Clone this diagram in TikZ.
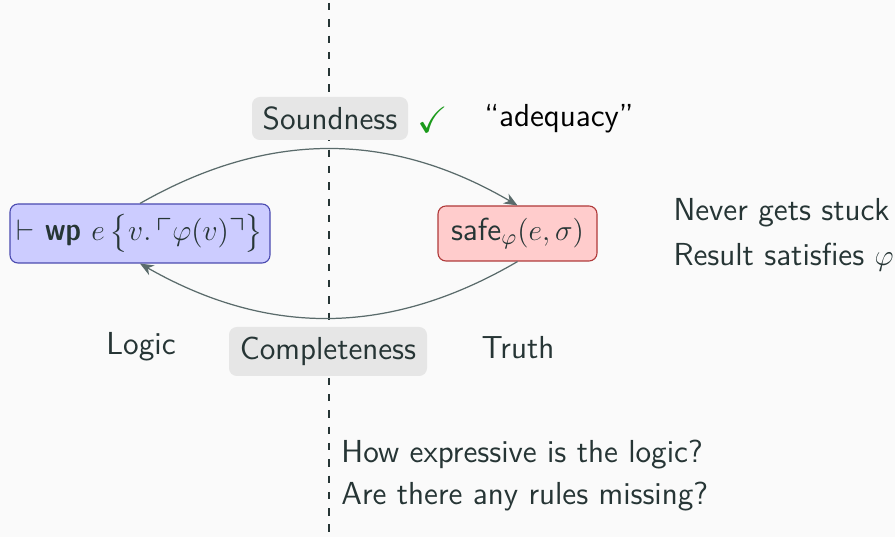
\documentclass[tikz,border=0pt]{standalone}
\usepackage{amsmath,amssymb}
\usetikzlibrary{arrows.meta}
\definecolor{bgc}{HTML}{FAFAFA}
\definecolor{txt}{HTML}{263535}
\definecolor{arc}{HTML}{5A6B6B}
\definecolor{bluefill}{HTML}{CCCCFF}
\definecolor{blueline}{HTML}{4A4AB0}
\definecolor{redfill}{HTML}{FFCCCC}
\definecolor{redline}{HTML}{B03A3A}
\definecolor{grayfill}{HTML}{E6E6E6}
\definecolor{checkg}{HTML}{1A9A1A}
\newcommand\pxu{0.405pt}
\tikzset{
  every node/.style={font=\sffamily\fontsize{12.9}{15.5}\selectfont, text=txt},
  judg/.style={draw, rounded corners=3.2pt, line width=0.45pt, inner sep=0pt},
  tag/.style={fill=grayfill, rounded corners=3.2pt, inner sep=0pt},
  conn/.style={draw=arc, line width=0.5pt, -{Stealth[length=5.5pt,width=4.5pt]}},
  lbl/.style={anchor=base west, inner sep=0pt},
}
\begin{document}
\begin{tikzpicture}[x=\pxu, y=-\pxu]
\fill[bgc] (0,0) rectangle (895,537);
\useasboundingbox (0,0) rectangle (895,537);
\coordinate (dtop) at (329,0);
\coordinate (dbot) at (329,537);
\draw[txt, line width=0.55pt, dash pattern=on 3pt off 3.6pt, dash phase=-1.2pt] (dtop) -- (dbot);

\node[judg, fill=bluefill, draw=blueline, minimum width=260*\pxu, minimum height=59*\pxu] (L) at (140,233.5)
  {$\vdash$ {\fontseries{sbc}\selectfont wp} $e\,\bigl\{v.\,\ulcorner\varphi(v)\urcorner\bigr\}$};
\node[judg, fill=redfill, draw=redline, minimum width=159*\pxu, minimum height=55*\pxu] (R) at (517.5,233.5)
  {\textsf{safe}$_{\varphi}(e,\sigma)$};

\node[tag, minimum width=156*\pxu, minimum height=43*\pxu] (S) at (330,118.5) {Soundness};
\node[tag, minimum width=198*\pxu, minimum height=49*\pxu] (C) at (328,351.5) {Completeness};

\node[text=checkg, inner sep=0pt, scale=1.15] (chk) at (433,120) {$\checkmark$};
\node[text=black, inner sep=0pt] (adq) at (559,119) {``adequacy''};

\draw[conn] (L.north) to[bend left=30] (R.north);
\draw[conn] (R.south) to[bend left=30] (L.south);

\node[lbl] (n1) at (673,221) {Never gets stuck};
\node[lbl] (n2) at (673,266) {Result satisfies $\varphi$};
\node[inner sep=0pt] (lg) at (141,347) {Logic};
\node[inner sep=0pt] (tr) at (518,348) {Truth};
\node[lbl] (q1) at (341,462) {How expressive is the logic?};
\node[lbl] (q2) at (341,504) {Are there any rules missing?};
\end{tikzpicture}
\end{document}
